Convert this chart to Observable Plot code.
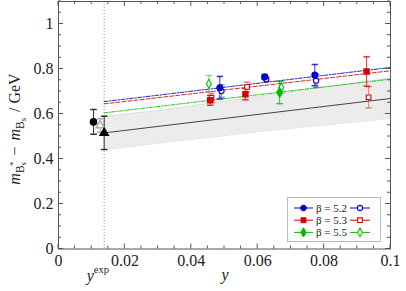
<!DOCTYPE html>
<html><head><meta charset="utf-8">
<script src="https://cdn.jsdelivr.net/npm/d3@7"></script>
<script src="https://cdn.jsdelivr.net/npm/@observablehq/plot@0.6"></script>
<style>body{margin:0;background:#fff} svg{display:block}</style>
</head><body><div id="chart"></div>
<script>
// ---- data ----
const yExp = 0.01376;
const betas = ["5.2", "5.3", "5.5"];
const betaColors = ["#0000cc", "#dd0000", "#00bb00"];
const betaSymbols = ["circle", "square", "diamond"];
const legendLabels = ["β = 5.2", "β = 5.3", "β = 5.5"];

// filled markers
const filledBeta = ["5.2", "5.2", "5.2", "5.3", "5.3", "5.3", "5.5"];
const filledY    = [0.0486, 0.0621, 0.0772, 0.0457, 0.0563, 0.0928, 0.0666];
const filledM    = [0.717, 0.765, 0.773, 0.661, 0.688, 0.789, 0.696];
const filledErr  = [0.050, 0.010, 0.047, 0.022, 0.025, 0.065, 0.050];

// open markers
const openBeta = ["5.2", "5.2", "5.2", "5.3", "5.3", "5.3", "5.5", "5.5"];
const openY    = [0.0491, 0.0626, 0.0776, 0.0461, 0.0568, 0.0934, 0.0453, 0.0671];
const openM    = [0.702, 0.755, 0.748, 0.672, 0.720, 0.674, 0.735, 0.718];
const openErr  = [0.028, 0.010, 0.030, 0.020, 0.022, 0.047, 0.036, 0.025];

// physical-point results
const physY   = [0.01054, 0.01256, yExp];
const physM   = [0.565, 0.549, 0.516];
const physErr = [0.055, 0.030, 0.074];

// fits
const fitY     = [yExp, 0.1];
const fitBlue  = [0.655, 0.807];
const fitRed   = [0.645, 0.792];
const fitGreen = [0.605, 0.755];
const fitPhys  = [0.516, 0.669];
const bandY  = [yExp, 0.03, 0.0608, 0.1];
const bandLo = [0.442, 0.470, 0.522, 0.580];
const bandHi = [0.590, 0.615, 0.680, 0.760];

const xTickLabels = [0, 0.02, 0.04, 0.06, 0.08, 0.1];
const yTickLabels = [0, 0.2, 0.4, 0.6, 0.8, 1];

// ---- tables ----
const filled = filledY.map((y, i) => ({y, m: filledM[i], e: filledErr[i], beta: filledBeta[i]}));
const open = openY.map((y, i) => ({y, m: openM[i], e: openErr[i], beta: openBeta[i]}));
const phys = physY.map((y, i) => ({y, m: physM[i], e: physErr[i]}));
const band = bandY.map((y, i) => ({y, lo: bandLo[i], hi: bandHi[i]}));
const fits = [
  {beta: "5.2", v: fitBlue, dash: "4,1.5,1.5,1.5"},
  {beta: "5.3", v: fitRed, dash: "4,2"},
  {beta: "5.5", v: fitGreen, dash: "3.5,1.5,1,1.5"}
].flatMap(f => fitY.map((y, i) => ({y, m: f.v[i], beta: f.beta, dash: f.dash})));
const physLine = fitY.map((y, i) => ({y, m: fitPhys[i]}));

const cap = {draw(ctx, size) { const r = Math.sqrt(size / Math.PI); ctx.moveTo(-r, 0); ctx.lineTo(r, 0); }};
const font = "Liberation Serif";

const fitMarks = betas.map(b => Plot.line(fits.filter(d => d.beta === b), {
  x: "y", y: "m", stroke: "beta", strokeWidth: 1, strokeOpacity: 0.85,
  strokeDasharray: fits.find(d => d.beta === b).dash
}));

const plot = Plot.plot({
  width: 406, height: 291,
  marginLeft: 58, marginRight: 16, marginTop: 1, marginBottom: 42.5,
  x: {domain: [0, 0.1]},
  y: {domain: [0, 1.1]},
  color: {domain: betas, range: betaColors},
  symbol: {domain: betas, range: betaSymbols},
  style: {fontFamily: font, fontSize: "16px", background: "white", color: "#222"},
  marks: [
    Plot.areaY(band, {x: "y", y1: "lo", y2: "hi", fill: "#ececec"}),
    Plot.line(band, {x: "y", y: "lo", stroke: "#dcdcdc", strokeWidth: 0.8}),
    Plot.line(band, {x: "y", y: "hi", stroke: "#dcdcdc", strokeWidth: 0.8}),
    Plot.ruleX([yExp], {stroke: "#777", strokeWidth: 0.8, strokeDasharray: "1,2"}),
    Plot.line(physLine, {x: "y", y: "m", stroke: "#444", strokeWidth: 1}),
    ...fitMarks,
    Plot.ruleX(open, {x: "y", y1: d => d.m - d.e, y2: d => d.m + d.e, stroke: "beta", strokeOpacity: 0.45}),
    Plot.dot(open, {x: "y", y: d => d.m - d.e, symbol: cap, r: 3.2, stroke: "beta", strokeOpacity: 0.45, fill: "none"}),
    Plot.dot(open, {x: "y", y: d => d.m + d.e, symbol: cap, r: 3.2, stroke: "beta", strokeOpacity: 0.45, fill: "none"}),
    Plot.ruleX(filled, {x: "y", y1: d => d.m - d.e, y2: d => d.m + d.e, stroke: "beta", strokeOpacity: 0.8}),
    Plot.dot(filled, {x: "y", y: d => d.m - d.e, symbol: cap, r: 3.2, stroke: "beta", strokeOpacity: 0.8, fill: "none"}),
    Plot.dot(filled, {x: "y", y: d => d.m + d.e, symbol: cap, r: 3.2, stroke: "beta", strokeOpacity: 0.8, fill: "none"}),
    Plot.ruleX(phys, {x: "y", y1: d => d.m - d.e, y2: d => d.m + d.e, stroke: (d, i) => i === 1 ? "#aaa" : "#333"}),
    Plot.dot(phys, {x: "y", y: d => d.m - d.e, symbol: cap, r: 3.3, stroke: (d, i) => i === 1 ? "#aaa" : "#333", fill: "none"}),
    Plot.dot(phys, {x: "y", y: d => d.m + d.e, symbol: cap, r: 3.3, stroke: (d, i) => i === 1 ? "#aaa" : "#333", fill: "none"}),
    Plot.dot(phys, {x: "y", y: "m", symbol: (d, i) => i === 0 ? "circle" : "triangle",
      r: (d, i) => i === 0 ? 2.9 : 2.8,
      fill: (d, i) => i === 1 ? "white" : "black", stroke: (d, i) => i === 1 ? "#aaa" : "black"}),
    Plot.dot(open, {x: "y", y: "m", symbol: "beta", r: 2.6, stroke: "beta", fill: "white", strokeWidth: 1.1}),
    Plot.dot(filled, {x: "y", y: "m", symbol: "beta", r: 2.8, stroke: "beta", fill: "beta"}),
    Plot.axisX({ticks: xTickLabels, tickSize: 0, tickPadding: 6, tickFormat: d3.format("~g"), label: null, fontFamily: font, fontSize: 16}),
    Plot.axisY({ticks: yTickLabels, tickSize: 0, tickPadding: 5, tickFormat: d3.format("~g"), label: null, fontFamily: font, fontSize: 16}),
    Plot.frame({stroke: "#555", strokeWidth: 1})
  ]
});
document.getElementById("chart").append(plot);

// ---- inward ticks, labels, legend ----
const sx = plot.scale("x"), sy = plot.scale("y");
const svg = d3.select(plot);
const L = sx.apply(0), R = sx.apply(0.1), T = sy.apply(1.1), B = sy.apply(0);
const g = svg.append("g").attr("stroke", "#555").attr("stroke-width", 1);
d3.range(0, 21).map(i => i * 0.005).forEach((v, i) => {
  const x = sx.apply(v), len = i % 4 === 0 ? 5 : 3;
  g.append("line").attr("x1", x).attr("x2", x).attr("y1", B).attr("y2", B - len);
  g.append("line").attr("x1", x).attr("x2", x).attr("y1", T).attr("y2", T + len);
});
d3.range(0, 23).map(i => i * 0.05).forEach((v, i) => {
  const y = sy.apply(v), len = i % 4 === 0 ? 5 : 3;
  g.append("line").attr("y1", y).attr("y2", y).attr("x1", L).attr("x2", L + len);
  g.append("line").attr("y1", y).attr("y2", y).attr("x1", R).attr("x2", R - len);
});

// y label (rotated)
const yl = svg.append("text").attr("transform", `translate(20,129) rotate(-90)`)
  .attr("text-anchor", "middle").attr("font-family", font).attr("font-size", 16).attr("fill", "#222");
yl.append("tspan").attr("font-style", "italic").text("m");
yl.append("tspan").attr("font-size", 11.5).attr("dy", 3.5).text("B");
yl.append("tspan").attr("font-size", 8.5).attr("dy", 2).text("s");
yl.append("tspan").attr("font-size", 9).attr("dy", -10).attr("dx", -4).text("*");
yl.append("tspan").attr("dy", 4.5).attr("dx", 6).text("−");
yl.append("tspan").attr("font-style", "italic").attr("dx", 6).text("m");
yl.append("tspan").attr("font-size", 11.5).attr("dy", 3.5).text("B");
yl.append("tspan").attr("font-size", 8.5).attr("dy", 2).text("s");
yl.append("tspan").attr("dy", -5.5).attr("dx", 6).text("/");
yl.append("tspan").attr("dx", 4).text("GeV");

// x labels
svg.append("text").attr("x", (L + R) / 2 + 1).attr("y", 280).attr("text-anchor", "middle")
  .attr("font-family", font).attr("font-style", "italic").attr("font-size", 16).attr("fill", "#222").text("y");
const ye = svg.append("text").attr("x", sx.apply(yExp) - 17).attr("y", 281).attr("text-anchor", "start")
  .attr("font-family", font).attr("font-size", 16).attr("fill", "#222");
ye.append("tspan").attr("font-style", "italic").text("y");
ye.append("tspan").attr("font-size", 10.5).attr("dy", -8).text("exp");

// legend
const lg = svg.append("g");
lg.append("rect").attr("x", 287.5).attr("y", 197.5).attr("width", 93).attr("height", 44)
  .attr("fill", "white").attr("stroke", "#bbb").attr("stroke-width", 1);
const symTypes = [d3.symbolCircle, d3.symbolSquare, d3.symbolDiamond];
betas.forEach((b, i) => {
  const y = 208 + i * 12.2, c = betaColors[i];
  const sym = d3.symbol(symTypes[i], Math.PI * 2.8 * 2.8)();
  const symO = d3.symbol(symTypes[i], Math.PI * 2.6 * 2.6)();
  lg.append("line").attr("x1", 294).attr("x2", 313).attr("y1", y).attr("y2", y).attr("stroke", c).attr("stroke-width", 1);
  lg.append("path").attr("d", sym).attr("transform", `translate(303.5,${y})`).attr("fill", c).attr("stroke", c);
  lg.append("line").attr("x1", 350).attr("x2", 370).attr("y1", y).attr("y2", y).attr("stroke", c).attr("stroke-width", 1);
  lg.append("path").attr("d", symO).attr("transform", `translate(360,${y})`).attr("fill", "white").attr("stroke", c).attr("stroke-width", 1.1);
  lg.append("text").attr("x", 316).attr("y", y + 3.8).attr("text-anchor", "start")
    .attr("font-family", font).attr("font-size", 11).attr("fill", "#222").text(legendLabels[i]);
});
</script></body></html>
